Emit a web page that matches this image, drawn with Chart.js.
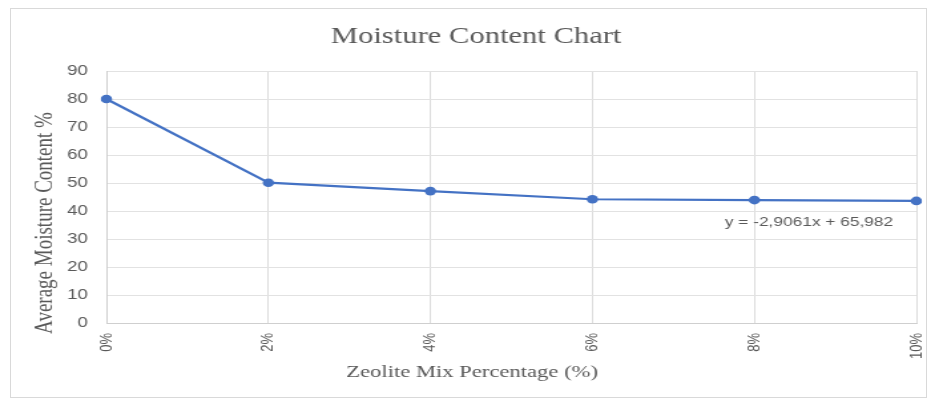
<!DOCTYPE html>
<html>
<head>
<meta charset="utf-8">
<script src="https://cdn.jsdelivr.net/npm/chart.js@4.4.1/dist/chart.umd.min.js"></script>
<style>
  html, body { margin: 0; padding: 0; background: #ffffff; }
  body { width: 931px; height: 403px; position: relative; overflow: hidden; }
  #frame {
    position: absolute; left: 10px; top: 8px; width: 917px; height: 390px;
    border: 1px solid #d9d9d9; box-sizing: border-box; pointer-events: none;
  }
  /* the chart is laid out on a narrower canvas and widened to the page */
  #wrap {
    position: absolute; left: 0; top: 0; width: 700px; height: 403px;
    transform: scaleX(1.33); transform-origin: 0 0;
  }
</style>
</head>
<body>
<div id="wrap"><canvas id="chart" width="700" height="403"></canvas></div>
<div id="frame"></div>
<script>
// Zeolite mix percentages and the measured average moisture content
const categories = ['0%', '2%', '4%', '6%', '8%', '10%'];
const moistureValues = [80, 50.1, 47.1, 44.2, 43.9, 43.6];
const yTicks = [0, 10, 20, 30, 40, 50, 60, 70, 80, 90];

const chartTitle = 'Moisture Content Chart';
const xTitle = 'Zeolite Mix Percentage (%)';
const yTitle = 'Average Moisture Content %';
const trendLabel = 'y = -2,9061x + 65,982';

const textGray = '#595959';
const serif = '"Liberation Serif", "Times New Roman", serif';
const sans = '"Liberation Sans", Arial, sans-serif';

// Titles and the trendline equation, placed around the plot area
const annotationText = {
  id: 'annotationText',
  afterDraw(chart) {
    const { ctx } = chart;
    ctx.save();
    ctx.fillStyle = textGray;
    ctx.textBaseline = 'middle';
    ctx.textAlign = 'center';

    ctx.font = '23px ' + serif;
    ctx.fillText(chartTitle, 358, 37);

    ctx.font = '17px ' + serif;
    ctx.fillText(xTitle, 355, 373);

    ctx.save();
    ctx.translate(34, 223);
    ctx.rotate(-Math.PI / 2);
    ctx.font = '19px ' + serif;
    ctx.fillText(yTitle, 0, 0);
    ctx.restore();

    ctx.textAlign = 'left';
    ctx.font = '13px ' + sans;
    ctx.fillText(trendLabel, 545, 222);
    ctx.restore();
  }
};

new Chart(document.getElementById('chart'), {
  type: 'line',
  data: {
    labels: categories,
    datasets: [{
      data: moistureValues,
      borderColor: '#4472C4',
      backgroundColor: '#4472C4',
      borderWidth: 2.2,
      pointRadius: 4.3,
      pointBorderWidth: 0,
      pointBackgroundColor: '#4472C4',
      tension: 0,
      fill: false
    }]
  },
  options: {
    responsive: false,
    animation: false,
    devicePixelRatio: 1,
    layout: { padding: { left: 0, right: 11, top: 71, bottom: 0 } },
    plugins: {
      legend: { display: false },
      title: { display: false },
      tooltip: { enabled: false }
    },
    scales: {
      x: {
        offset: false,
        grid: { color: '#dcdcdc', lineWidth: 1, drawTicks: false },
        border: { display: true, color: '#cfcfcf', width: 1 },
        ticks: {
          color: textGray,
          font: { family: sans, size: 13 },
          minRotation: 90,
          maxRotation: 90,
          padding: 10
        },
        afterFit(scale) {
          scale.height = 80;
          scale.paddingLeft = 0;
          scale.paddingRight = 0;
        }
      },
      y: {
        min: 0,
        max: 90,
        afterBuildTicks(scale) { scale.ticks = yTicks.map(v => ({ value: v })); },
        grid: { color: '#e2e2e2', lineWidth: 1, drawTicks: false },
        border: { display: true, color: '#cfcfcf', width: 1 },
        ticks: {
          color: textGray,
          font: { family: sans, size: 14 },
          padding: 14
        },
        afterFit(scale) {
          scale.width = 80;
          scale.paddingTop = 0;
          scale.paddingBottom = 0;
        }
      }
    }
  },
  plugins: [annotationText]
});
</script>
</body>
</html>
